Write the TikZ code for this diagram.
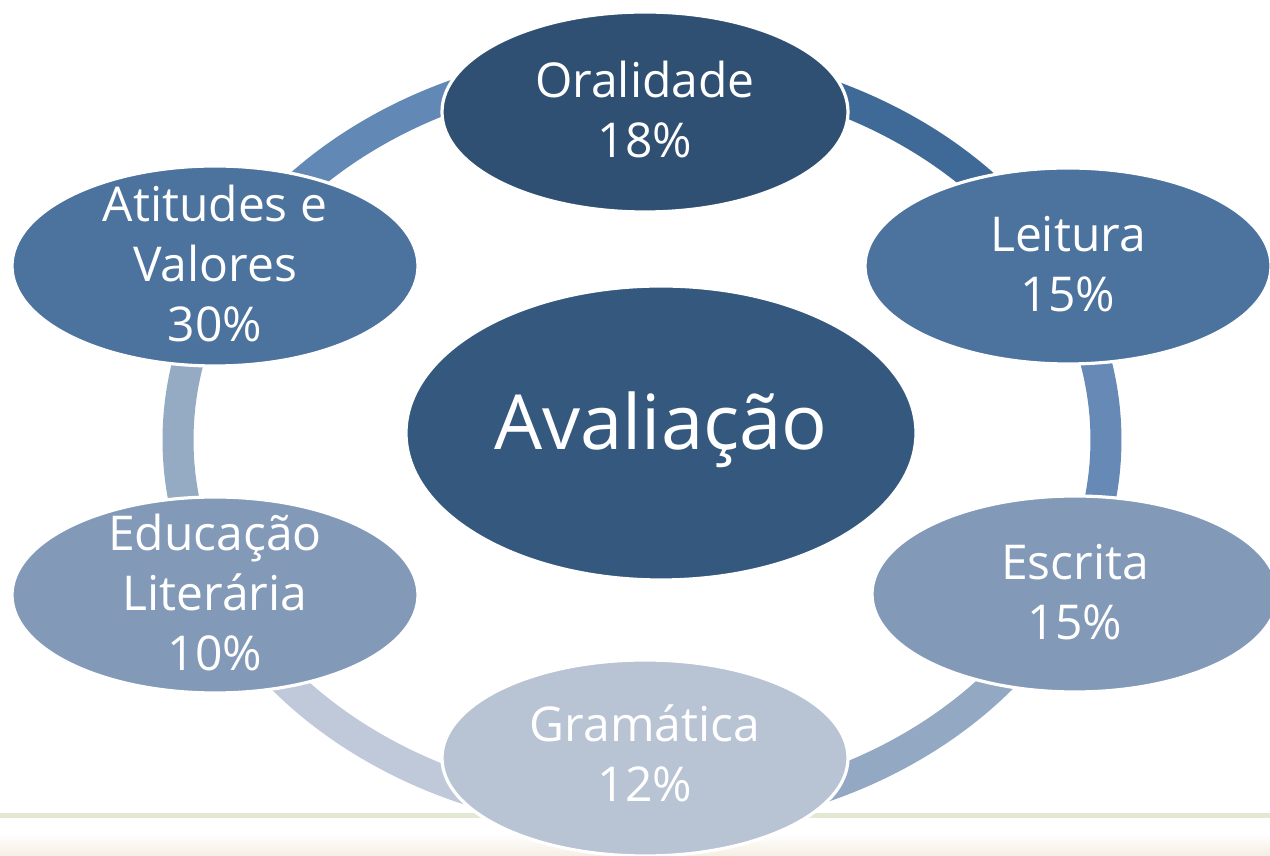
\documentclass[tikz,border=0pt]{standalone}
\usepackage{fontspec}
\setmainfont{Open Sans}
\definecolor{cOral}{HTML}{2F5073}
\definecolor{cLeit}{HTML}{4C729E}
\definecolor{cEscr}{HTML}{8399B8}
\definecolor{cGram}{HTML}{B8C3D4}
\definecolor{cEduc}{HTML}{8399B8}
\definecolor{cAtit}{HTML}{4C729E}
\definecolor{cCent}{HTML}{35597E}
\definecolor{aOL}{HTML}{3F6A97}
\definecolor{aLE}{HTML}{6689B5}
\definecolor{aEG}{HTML}{93A8C3}
\definecolor{aGE}{HTML}{C0C9D9}
\definecolor{aEA}{HTML}{95AAC3}
\definecolor{aAO}{HTML}{6288B5}
\definecolor{beige}{HTML}{F5EEE3}
\definecolor{lineg}{HTML}{E3E8D4}
\begin{document}
\begin{tikzpicture}[x=0.5pt,y=0.5pt,
  ringseg/.style={line width=15.5pt},
  bubble/.style={draw=white, line width=1.6pt},
  lbl/.style={text=white, align=center, font=\fontsize{24}{30}\selectfont},
  bigl/.style={text=white, align=center, font=\fontsize{38}{44}\selectfont}]
\useasboundingbox (0,0) rectangle (1270,856);
\fill[white] (0,0) rectangle (1270,856);
% bottom decoration
\fill[top color=white, bottom color=beige] (0,0) rectangle (1270,22);
\fill[lineg] (0,38) rectangle (1270,43);
% ring
\coordinate (ring) at (642,416);
\draw[ringseg, aOL] (ring) ++(90:464 and 377) arc[start angle=90, end angle=26.7, x radius=464, y radius=377];
\draw[ringseg, aLE] (ring) ++(26.7:464 and 377) arc[start angle=26.7, end angle=-23.6, x radius=464, y radius=377];
\draw[ringseg, aEG] (ring) ++(-23.6:464 and 377) arc[start angle=-23.6, end angle=-90, x radius=464, y radius=377];
\draw[ringseg, aGE] (ring) ++(-90:464 and 377) arc[start angle=-90, end angle=-156, x radius=464, y radius=377];
\draw[ringseg, aEA] (ring) ++(204:464 and 377) arc[start angle=204, end angle=153.4, x radius=464, y radius=377];
\draw[ringseg, aAO] (ring) ++(153.4:464 and 377) arc[start angle=153.4, end angle=90, x radius=464, y radius=377];
% bubbles
\filldraw[bubble, fill=cOral] (645,744) ellipse [x radius=203, y radius=100];
\filldraw[bubble, fill=cLeit] (1068,590) ellipse [x radius=203, y radius=98];
\filldraw[bubble, fill=cEscr] (1075,262) ellipse [x radius=203, y radius=98];
\filldraw[bubble, fill=cGram] (645,98) ellipse [x radius=203, y radius=98];
\filldraw[bubble, fill=cEduc] (215,261) ellipse [x radius=203, y radius=98];
\filldraw[bubble, fill=cAtit] (215,590) ellipse [x radius=203, y radius=100];
\filldraw[bubble, fill=cCent] (661,423) ellipse [x radius=255, y radius=147];
% labels
\node[lbl] (oral) at (645,746) {Oralidade\\18\%};
\node[lbl] (leit) at (1068,592) {Leitura\\15\%};
\node[lbl] (escr) at (1075,264) {Escrita\\15\%};
\node[lbl] (gram) at (645,103) {Gramática\\12\%};
\node[lbl] (educ) at (215,263) {Educação\\Literária\\10\%};
\node[lbl] (atit) at (215,592) {Atitudes e\\Valores\\30\%};
\node[bigl] (aval) at (661,426) {Avaliação};
\end{tikzpicture}
\end{document}
